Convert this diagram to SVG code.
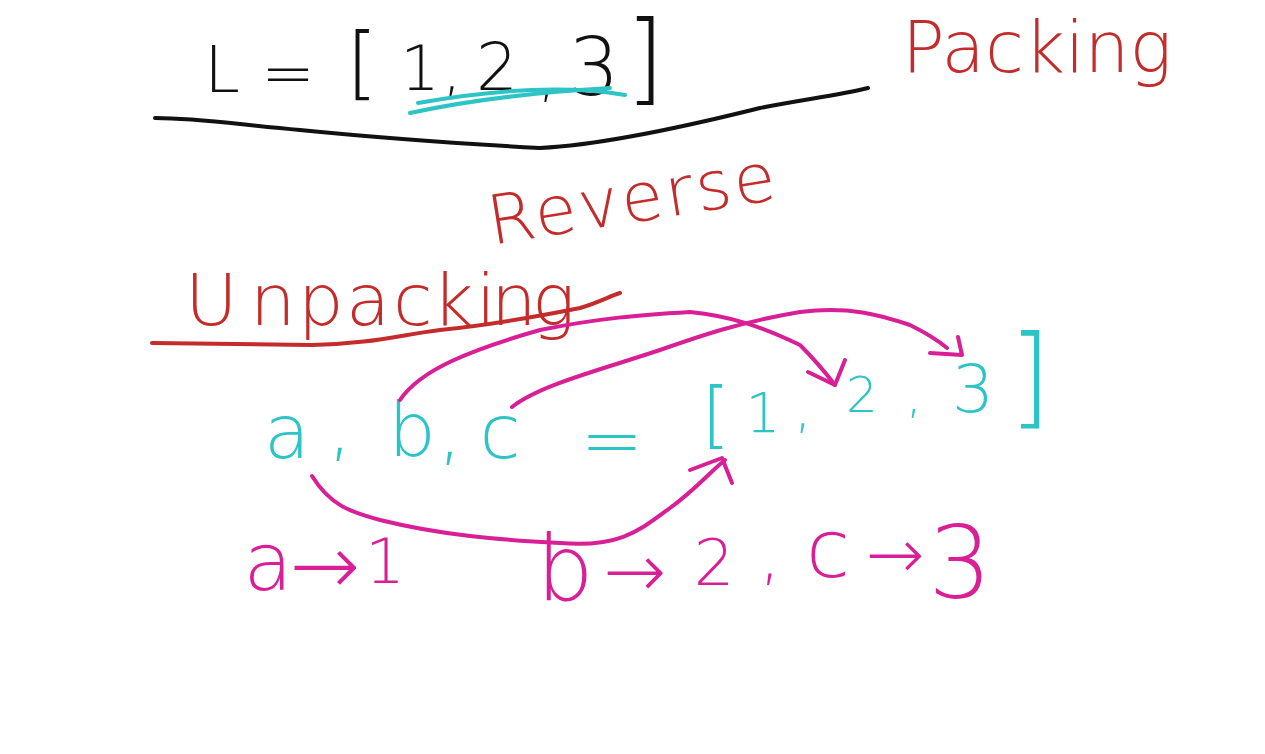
<svg xmlns="http://www.w3.org/2000/svg" width="1265" height="754" viewBox="0 0 1265 754">
<style>
text{font-family:"DejaVu Sans","Liberation Sans",sans-serif;font-weight:200;text-anchor:middle}
.k{fill:#111}
.cy{fill:#2ec4c6}
.rd{fill:#c42b2b}
.mg{fill:#d81f96}
.ln{fill:none;stroke-width:4;stroke-linecap:round;stroke-linejoin:round}
</style>
<rect width="1265" height="754" fill="#fff"/>
<g id="list-L">
<text class="k" x="222" y="92" font-size="64">L</text>
<text class="k" x="288" y="95" font-size="64">=</text>
<text class="k" x="362" y="90" font-size="80">[</text>
<text class="k" x="420" y="90" font-size="62">1</text>
<text class="k" x="452" y="90" font-size="60">,</text>
<text class="k" x="497" y="90" font-size="66">2</text>
<text class="k" x="547" y="95" font-size="60">,</text>
<text class="k" x="594" y="95" font-size="80">3</text>
<text class="k" x="645" y="92" font-size="100">]</text>
</g>
<g id="packing">
<text class="rd" x="1037" y="72" font-size="72" textLength="270" lengthAdjust="spacingAndGlyphs">Packing</text>
</g>
<g id="reverse">
<text class="rd" x="635" y="222" font-size="68" textLength="290" lengthAdjust="spacing" transform="rotate(-9 635 222)">Reverse</text>
</g>
<g id="unpacking">
<text class="rd" font-size="72" style="text-anchor:start" x="185 250 298 346 393 432 476 491 532" y="325">Unpacking</text>
</g>
<g id="assign">
<text class="cy" x="287" y="458" font-size="75">a</text>
<text class="cy" x="340" y="452" font-size="75">,</text>
<text class="cy" x="412" y="456" font-size="75">b</text>
<text class="cy" x="450" y="456" font-size="75">,</text>
<text class="cy" x="500" y="458" font-size="75">c</text>
<text class="cy" x="612" y="466" font-size="75">=</text>
<text class="cy" x="716" y="440" font-size="73">[</text>
<text class="cy" x="763" y="432" font-size="55">1</text>
<text class="cy" x="803" y="427" font-size="55">,</text>
<text class="cy" x="862" y="412" font-size="50">2</text>
<text class="cy" x="914" y="412" font-size="50">,</text>
<text class="cy" x="973" y="412" font-size="66">3</text>
<text class="cy" x="1030" y="414" font-size="110">]</text>
</g>
<g id="mapping">
<text class="mg" x="268" y="590" font-size="80">a</text>
<text class="mg" x="325" y="594" font-size="84">→</text>
<text class="mg" x="385" y="583" font-size="63">1</text>
<text class="mg" x="565" y="600" font-size="90">b</text>
<text class="mg" x="635" y="597" font-size="75">→</text>
<text class="mg" x="714" y="585" font-size="64">2</text>
<text class="mg" x="770" y="578" font-size="64">,</text>
<text class="mg" x="828" y="577" font-size="80">c</text>
<text class="mg" x="895" y="578" font-size="70">→</text>
<text class="mg" x="960" y="598" font-size="100">3</text>
</g>
<g id="connectors">
<path class="ln" stroke="#2ec4c6" d="M410,113 C470,100 540,92 610,88"/>
<path class="ln" stroke="#2ec4c6" d="M418,103 C480,92 560,84 625,95"/>
<path class="ln" stroke="#111" d="M155,118 C200,118 240,125 300,130 C380,138 450,143 540,148 C600,145 680,128 760,108 C800,100 840,95 868,88"/>
<path class="ln" stroke="#c42b2b" d="M152,343 L312,345 C370,344 400,335 440,330 C490,325 530,318 580,308 C600,302 610,296 620,293"/>
<path class="ln" stroke="#d81f96" d="M312,476 C330,505 350,512 380,520 C440,535 500,540 560,543 C620,548 640,530 670,508 C695,490 710,472 725,460"/>
<path class="ln" stroke="#d81f96" d="M690,470 L722,458 L732,483"/>
<path class="ln" stroke="#d81f96" d="M400,400 C420,370 470,350 540,330 C600,318 640,315 690,312 C730,316 760,326 800,345 C815,360 825,372 835,385"/>
<path class="ln" stroke="#d81f96" d="M808,372 L835,385 L845,360"/>
<path class="ln" stroke="#d81f96" d="M512,407 C540,385 600,370 660,350 C700,336 740,322 800,312 C850,306 880,315 910,325 C930,335 940,342 947,348"/>
<path class="ln" stroke="#d81f96" d="M930,353 L962,355 L958,337"/>
</g>
</svg>
